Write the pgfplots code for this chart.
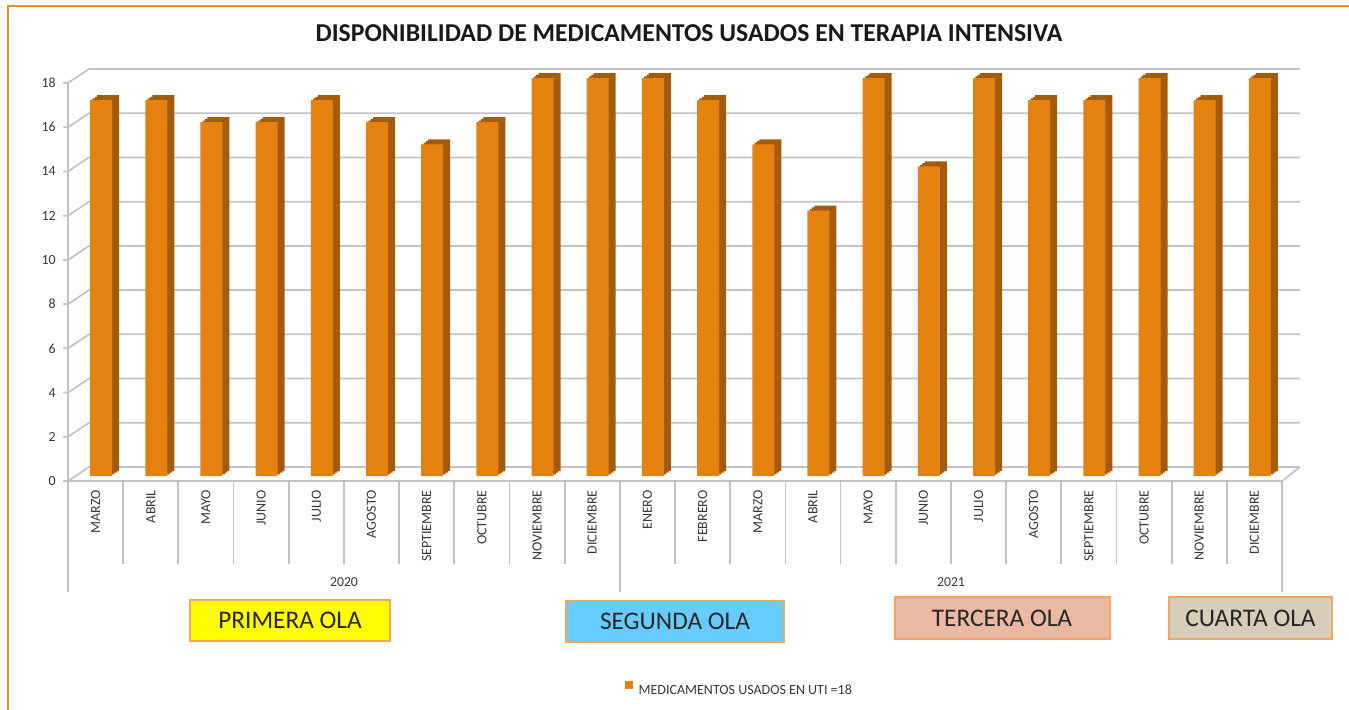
\documentclass[border=0pt]{standalone}
\usepackage{fontspec}
\setmainfont{Carlito}
\usepackage{pgfplots}
\usepackage{pgfplotstable}
\pgfplotsset{compat=1.18}
\definecolor{barc}{HTML}{E5820F}
\definecolor{bars}{HTML}{A35C0E}
\definecolor{gridc}{HTML}{C3C3C3}
\definecolor{framec}{HTML}{ED8B2F}
\definecolor{boxline}{HTML}{F0A860}
\definecolor{yel}{HTML}{FFFF00}
\definecolor{blu}{HTML}{66CCFF}
\definecolor{sal}{HTML}{EBB8A3}
\definecolor{tanc}{HTML}{D8CDB9}
\definecolor{txt}{HTML}{383838}

\pgfplotstableread{
x v
0 17
1 17
2 16
3 16
4 17
5 16
6 15
7 16
8 18
9 18
10 18
11 17
12 15
13 12
14 18
15 14
16 18
17 17
18 17
19 18
20 17
21 18
}\datatab

\begin{document}
\begin{tikzpicture}
\begin{scope}[x=0.75pt,y=-0.75pt]
\path[use as bounding box] (0,0) rectangle (1349,710);
\draw[framec, line width=1.5] (8,710) -- (8,6) -- (1349,6);
\node[font=\fontsize{19.3}{22}\selectfont\bfseries, text=black!90] at (689,33) {DISPONIBILIDAD DE MEDICAMENTOS USADOS EN TERAPIA INTENSIVA};
% walls
\foreach \v in {0,2,...,18} {
  \pgfmathsetmacro\yf{481-22.111*\v}
  \draw[gridc, line width=1.3] (63,\yf) -- (68,\yf) -- (89,\yf-14) -- (1300,\yf-14);
}
\draw[gridc, line width=1.3] (68,481) -- (68,83);
\draw[gridc, line width=1.3] (68,481) -- (1282,481) -- (1300,467);
\foreach \k in {1,...,21} {
  \pgfmathsetmacro\xx{68+55.182*\k}
  \draw[gridc, line width=1.3] (\xx,481) -- (\xx,564);
}
\draw[gridc, line width=1.3] (68,481) -- (68,592);
\draw[gridc, line width=1.3] (619.8,481) -- (619.8,592);
\draw[gridc, line width=1.3] (1282,481) -- (1282,592);
\node[font=\fontsize{10.3}{12}\selectfont, text=txt] at (344,582) {2020};
\node[font=\fontsize{10.3}{12}\selectfont, text=txt] at (951,582) {2021};
% wave boxes
\node[draw=boxline, fill=yel, line width=1.5, minimum width=150pt, minimum height=30.75pt, inner sep=0pt, font=\fontsize{19}{22}\selectfont, text=black!85] at (290,620.5) {PRIMERA OLA};
\node[draw=boxline, fill=blu, line width=1.5, minimum width=163.5pt, minimum height=30.75pt, inner sep=0pt, font=\fontsize{19}{22}\selectfont, text=black!85] at (675,621) {SEGUNDA OLA};
\node[draw=boxline, fill=sal, line width=1.5, minimum width=161.25pt, minimum height=31.5pt, inner sep=0pt, font=\fontsize{19}{22}\selectfont, text=black!85] at (1002,618) {TERCERA OLA};
\node[draw=boxline, fill=tanc, line width=1.5, minimum width=122.25pt, minimum height=31.5pt, inner sep=0pt, font=\fontsize{19}{22}\selectfont, text=black!85] at (1250.5,618) {CUARTA OLA};
\end{scope}
\begin{axis}[
  at={(51pt,-360.75pt)}, anchor=south west, scale only axis,
  width=910.5pt, height=298.5pt,
  xmin=-0.5, xmax=21.5, ymin=0, ymax=18,
  axis line style={draw=none}, major tick length=0pt,
  clip=false,
  ytick={0,2,...,18},
  xtick={0,...,21},
  xticklabels={MARZO,ABRIL,MAYO,JUNIO,JULIO,AGOSTO,SEPTIEMBRE,OCTUBRE,NOVIEMBRE,DICIEMBRE,ENERO,FEBRERO,MARZO,ABRIL,MAYO,JUNIO,JULIO,AGOSTO,SEPTIEMBRE,OCTUBRE,NOVIEMBRE,DICIEMBRE},
  xticklabel shift=6.75pt,
  xticklabel style={rotate=90, anchor=east, inner sep=0pt, font=\fontsize{10.5}{12}\selectfont, text=txt},
  yticklabel shift=9pt,
  yticklabel style={anchor=east, inner sep=0pt, font=\fontsize{10.5}{12}\selectfont, text=txt},
  /pgf/number format/assume math mode=true,
  legend style={at={(axis description cs:0.5535,-0.525)}, anchor=center, draw=none, fill=none, font=\fontsize{10.5}{12}\selectfont, text=txt, inner sep=0pt},
  legend image code/.code={\fill[barc] (0pt,-3pt) rectangle (6pt,3pt);},
]
\addplot[ybar, bar width=16.5pt, bar shift=5.875pt, fill=bars, draw=none, yshift=5pt, forget plot] table[x=x,y=v]{\datatab};
\addplot[ybar, bar width=16.5pt, bar shift=7.625pt, fill=bars, draw=none, yshift=6.25pt, forget plot] table[x=x,y=v]{\datatab};
\addplot[ybar, bar width=16.5pt, bar shift=9.375pt, fill=bars, draw=none, yshift=7.5pt, forget plot] table[x=x,y=v]{\datatab};
\addplot[ybar, bar width=16.5pt, bar shift=4.125pt, fill=barc, draw=none, yshift=3.75pt] table[x=x,y=v]{\datatab};
\addlegendentry{\hspace{2pt}MEDICAMENTOS USADOS EN UTI =18}
\end{axis}
\end{tikzpicture}
\end{document}
